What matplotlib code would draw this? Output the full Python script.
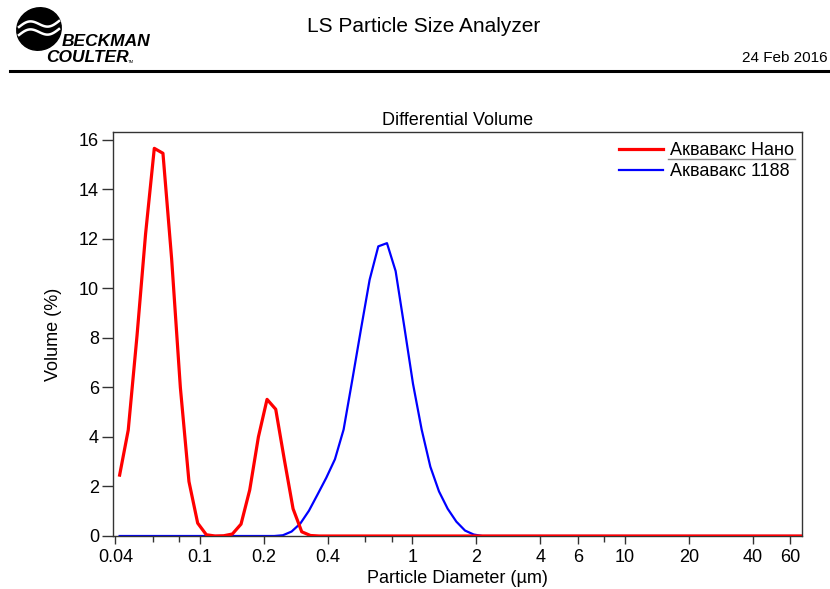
import matplotlib
matplotlib.use("Agg")
import matplotlib.pyplot as plt
from matplotlib.patches import Ellipse
from matplotlib.lines import Line2D
import numpy as np

plt.rcParams['font.family'] = ['Liberation Sans', 'DejaVu Sans']

# Nano sample: LS channel centres (um) and differential volume (%)
nano_diam = [0.0419, 0.0460, 0.0506, 0.0555, 0.0610, 0.0670, 0.0736, 0.0809, 0.0888, 0.0976,
             0.1072, 0.1178, 0.1294, 0.1421, 0.1561, 0.1715, 0.1884, 0.2069, 0.2273, 0.2497,
             0.2743, 0.3013, 0.3310, 0.3636, 70.0]
nano_vol = [2.46, 4.28, 8.1, 12.2, 15.66, 15.46, 11.2, 6.0, 2.2, 0.52,
            0.05, 0.0, 0.01, 0.08, 0.48, 1.86, 4.0, 5.52, 5.12, 3.07,
            1.1, 0.17, 0.02, 0.0, 0.0]

# 1188 sample
ref_diam = [0.0419, 0.2237, 0.2457, 0.2699, 0.2965, 0.3257, 0.3578, 0.3930, 0.4317, 0.4742,
            0.5209, 0.5722, 0.6286, 0.6905, 0.7585, 0.8332, 0.9153, 1.0055, 1.1045, 1.2133,
            1.3328, 1.4641, 1.6083, 1.7667, 1.9407, 2.1319, 70.0]
ref_vol = [0.0, 0.0, 0.03, 0.18, 0.5, 1.02, 1.68, 2.35, 3.1, 4.3,
           6.3, 8.35, 10.35, 11.7, 11.83, 10.7, 8.45, 6.15, 4.3, 2.8,
           1.8, 1.1, 0.58, 0.22, 0.06, 0.0, 0.0]

labels = ['Аквавакс Нано', 'Аквавакс 1188']
major_ticks = [0.04, 0.1, 0.2, 0.4, 1, 2, 4, 6, 10, 20, 40, 60]
major_labels = ['0.04', '0.1', '0.2', '0.4', '1', '2', '4', '6', '10', '20', '40', '60']
minor_ticks = [0.06, 0.08, 0.6, 0.8, 8]

W, H = 830, 589
fig = plt.figure(figsize=(W / 100, H / 100), dpi=100)

# en-tete du rapport
fig.text(424 / W, 1 - 27 / H, 'LS Particle Size Analyzer', ha='center', va='center', fontsize=15)
fig.text(828 / W, 1 - 58 / H, '24 Feb 2016', ha='right', va='center', fontsize=11)
fig.add_artist(Line2D([10 / W, 1.0], [1 - 71 / H, 1 - 71 / H], color='black', lw=2.2))

# logo approx.
logo = fig.add_axes([0, 1 - 80 / H, 160 / W, 80 / H])
logo.set_xlim(0, 160)
logo.set_ylim(80, 0)
logo.axis('off')
logo.add_patch(Ellipse((39, 29), 45, 42, angle=-25, color='black'))
t = np.linspace(-1, 1, 50)
logo.plot(39 + 20 * t, 24 + 4 * np.sin(np.pi * t) - 3 * t, color='white', lw=1.8)
logo.plot(39 + 20 * t, 32 + 4 * np.sin(np.pi * t) - 3 * t, color='white', lw=1.8)
logo.text(62, 42, 'BECKMAN', fontsize=12.5, fontweight='bold', fontstyle='italic',
          va='center', ha='left')
logo.text(46, 58, 'COULTER', fontsize=12.5, fontweight='bold', fontstyle='italic',
          va='center', ha='left')
logo.text(128, 62, 'TM', fontsize=3, va='center', ha='left')

ax = fig.add_axes([113 / W, 53 / H, 689 / W, 404 / H])
ax.plot(nano_diam, nano_vol, color='#ff0000', lw=2.3, label=labels[0], zorder=3)
ax.plot(ref_diam, ref_vol, color='#0000ff', lw=1.6, label=labels[1], zorder=2)

ax.set_xscale('log')
ax.set_xlim(0.039, 68)
ax.set_ylim(0, 16.32)
ax.set_xticks(major_ticks)
ax.set_xticklabels(major_labels)
ax.set_xticks(minor_ticks, minor=True)
ax.set_xticklabels([], minor=True)
ax.set_yticks(range(0, 17, 2))
ax.tick_params(axis='x', which='major', direction='out', length=6, width=1, labelsize=13,
               color='#333333', pad=3)
ax.tick_params(axis='y', which='major', direction='out', length=8, width=1, labelsize=13,
               color='#333333', pad=2)
ax.tick_params(axis='x', which='minor', direction='out', length=4, width=1, color='#333333')
for s in ax.spines.values():
    s.set_color('#333333')
    s.set_linewidth(1)

ax.set_title('Differential Volume', fontsize=13, pad=5)
ax.set_xlabel('Particle Diameter (µm)', fontsize=13, labelpad=3)
ax.set_ylabel('Volume (%)', fontsize=13, labelpad=12)

leg = ax.legend(loc='upper right', bbox_to_anchor=(0.988, 0.975), frameon=False, fontsize=13,
                handlelength=2.4, handletextpad=0.4, labelspacing=0.22, borderaxespad=0,
                borderpad=0)
# trait de separation sous la premiere entree
fig.add_artist(Line2D([668 / W, 795 / W], [1 - 159 / H, 1 - 159 / H], color='#888888', lw=1))

fig.savefig('out.png', dpi=100)
